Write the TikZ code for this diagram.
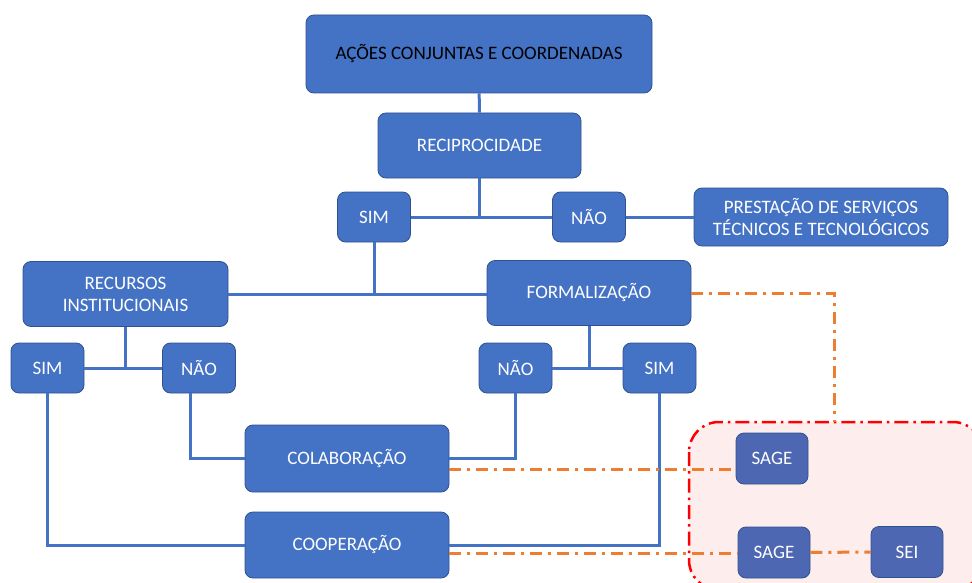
\documentclass[tikz,border=0pt]{standalone}
\usepackage{fontspec}
\setmainfont{Carlito}
\definecolor{boxblue}{HTML}{4472C4}
\definecolor{boxedge}{HTML}{2F528F}
\definecolor{sageblue}{RGB}{78,103,178}
\definecolor{zonefill}{RGB}{253,237,236}
\definecolor{planorange}{HTML}{ED7D31}
\definecolor{zonered}{HTML}{FF0000}
\begin{document}
\begin{tikzpicture}[x=1pt,y=-1pt,
    every node/.style={draw=boxedge, fill=boxblue, rounded corners=8pt, text=white,
      font=\fontsize{19}{22}\selectfont, align=center, inner sep=0pt, line width=0.8pt},
    wide/.style={minimum width=204pt, minimum height=65pt},
    yesno/.style={minimum width=73pt, minimum height=50pt},
    sys/.style={fill=sageblue, minimum width=72pt, minimum height=51pt},
    link/.style={draw=boxblue, line width=3pt},
    plan/.style={draw=planorange, line width=3pt, dash pattern=on 12pt off 6pt on 3pt off 6pt},
    zone/.style={draw=zonered, fill=zonefill, line width=2.5pt, rounded corners=30pt,
      dash pattern=on 14pt off 5pt on 2.5pt off 5pt}]
    \useasboundingbox (0,0) rectangle (972,583);
    \clip (0,0) rectangle (972,583);

    % zone of the systems
    \path[zone] (689,422) rectangle (983,590);

    \node (acoes)[text=black, minimum width=346pt, minimum height=78pt] at (479,54) {AÇÕES CONJUNTAS E COORDENADAS};
    \node (reci)[wide, minimum width=203pt]   at (479.5,145.5) {RECIPROCIDADE};

    \node (simR)[yesno]  at (374,217) {SIM};
    \node (naoR)[yesno]  at (589,217) {NÃO};
    \node (prest)[minimum width=254pt, minimum height=58pt] at (821,217) {PRESTAÇÃO DE SERVIÇOS\\TÉCNICOS E TECNOLÓGICOS};

    \node (recursos)[wide, minimum width=205pt] at (125.5,294) {RECURSOS\\INSTITUCIONAIS};
    \node (formal)[wide]   at (589,293) {FORMALIZAÇÃO};

    \node (simI)[yesno]  at (47.5,368) {SIM};
    \node (naoI)[yesno]  at (199,368)  {NÃO};
    \node (naoF)[yesno]  at (515.5,368) {NÃO};
    \node (simF)[yesno]  at (659.5,368) {SIM};

    \node (colab)[wide, minimum height=67pt] at (347,458.5) {COLABORAÇÃO};
    \node (coop)[wide, minimum height=66pt]  at (347,545)   {COOPERAÇÃO};

    \node (sage1)[sys] at (772,458.5) {SAGE};
    \node (sage2)[sys] at (774,552.5) {SAGE};
    \node (sei)[sys]   at (907,552)   {SEI};

    \coordinate (zonetop) at (834,422);
    \coordinate (colabout) at ([yshift=-11pt]colab.east);
    \coordinate (coopout) at ([yshift=-8pt]coop.east);

    \foreach \from/\to in {acoes/reci, simR/naoR, naoR/prest, simI/naoI, naoF/simF}
      \draw[link] (\from) -- (\to);
    \foreach \from/\to in {reci/simR, simR/recursos, recursos/simI, formal/naoF}
      \draw[link] (\from) -- (\from |- \to);
    \draw[link] (recursos) -- (recursos -| formal.west);
    \foreach \from/\to in {naoF/colab, simI/coop, simF/coop}
      \draw[link] (\from) |- (\to);
    \draw[link] ([xshift=-9pt]naoI.south) |- (colab);

    \draw[plan] (formal) -| (zonetop);
    \draw[plan] (colabout) -- (colabout -| sage1.west);
    \draw[plan] (coopout) -- (coopout -| sage2.west);
    \draw[plan] (sage2) -- (sei);
\end{tikzpicture}
\end{document}
